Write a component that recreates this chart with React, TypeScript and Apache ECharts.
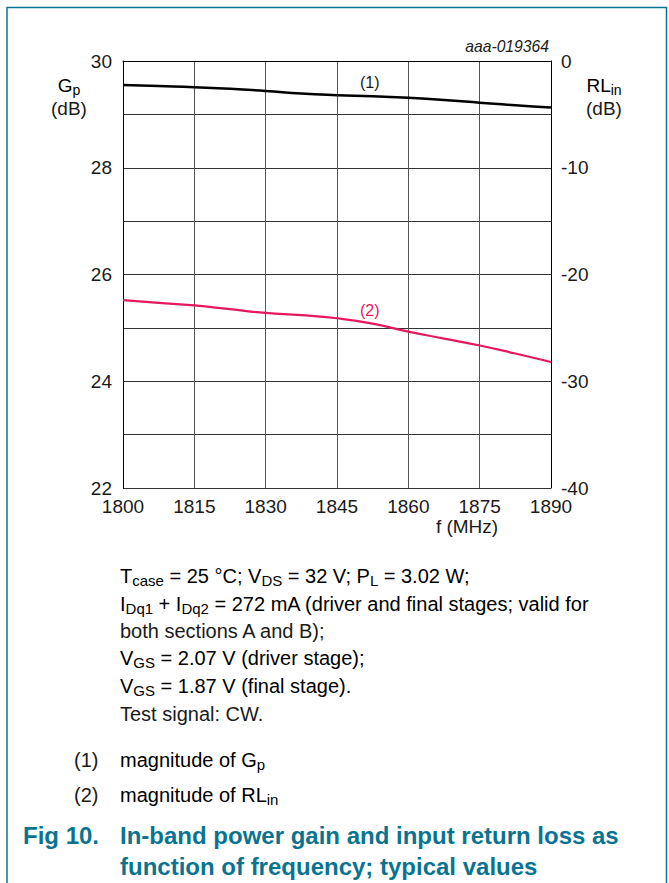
import React, { useEffect, useRef } from "react";
import * as echarts from "echarts";

const freqMHz = [1800, 1807.5, 1815, 1822.5, 1830, 1837.5, 1845, 1852.5, 1860, 1867.5, 1875, 1882.5, 1890];
const gainDb = [29.55, 29.53, 29.51, 29.48, 29.44, 29.39, 29.36, 29.34, 29.31, 29.27, 29.22, 29.17, 29.13];
const returnLossDb = [-22.4, -22.65, -22.9, -23.25, -23.6, -23.8, -24.1, -24.6, -25.35, -26.0, -26.65, -27.4, -28.2];
const xTicks = [1800, 1815, 1830, 1845, 1860, 1875, 1890];
const leftTickLabels = [22, 24, 26, 28, 30];
const rightTickLabels = [-40, -30, -20, -10, 0];

const FONT = "'Liberation Sans', Arial, Helvetica, sans-serif";
const TEAL = "#0a7490";
const RED = "#e5195e";
const TICK = 19;

type Seg = [string, boolean];
function rich(segs: Seg[]): string {
  return segs.map(([t, sub]) => `{${sub ? "s" : "n"}|${t}}`).join("");
}
function richStyles(size: number, color = "#1a1a1a", lh = size + 4) {
  return {
    n: { fontSize: size, fontFamily: FONT, color, lineHeight: lh },
    s: { fontSize: Math.round(size * 0.74), fontFamily: FONT, color, lineHeight: 8, verticalAlign: "bottom" },
  };
}

export default function App() {
  const ref = useRef<HTMLDivElement>(null);
  useEffect(() => {
    if (!ref.current) return;
    const chart = echarts.init(ref.current, null, { renderer: "svg" });
    const noteSize = 20;
    const txt = (x: number, y: number, segs: Seg[], opts: any = {}) => ({
      type: "text",
      x,
      y,
      style: {
        text: rich(segs),
        rich: richStyles(opts.size || noteSize, opts.color, opts.lh),
        textAlign: opts.align || "left",
        textVerticalAlign: "middle",
        fontFamily: FONT,
      },
    });
    const plain = (x: number, y: number, t: string, opts: any = {}) => ({
      type: "text",
      x,
      y,
      style: {
        text: t,
        fontSize: opts.size || noteSize,
        fontFamily: FONT,
        fontWeight: opts.weight || "normal",
        fontStyle: opts.style || "normal",
        fill: opts.color || "#1a1a1a",
        textAlign: opts.align || "left",
        textVerticalAlign: "middle",
        lineHeight: opts.lh,
      },
    });
    const bold = { size: 24, weight: "bold", color: TEAL };
    chart.setOption({
      animation: false,
      grid: { left: 123, right: 118, top: 61, bottom: 395, containLabel: false },
      xAxis: {
        type: "value",
        min: 1800,
        max: 1890,
        interval: 15,
        axisLine: { show: true, lineStyle: { color: "#000", width: 1 } },
        axisTick: { show: false },
        splitLine: { show: true, lineStyle: { color: "#555", width: 1 } },
        axisLabel: {
          color: "#1a1a1a",
          fontSize: TICK,
          fontFamily: FONT,
          lineHeight: 18,
          margin: 9,
          formatter: (v: number) => (xTicks.includes(v) ? String(v) : ""),
        },
      },
      yAxis: [
        {
          type: "value",
          min: 22,
          max: 30,
          interval: 1,
          position: "left",
          axisLine: { show: true, lineStyle: { color: "#000", width: 1 } },
          axisTick: { show: false },
          splitLine: { show: true, lineStyle: { color: "#333", width: 1 } },
          axisLabel: {
            color: "#1a1a1a",
            fontSize: TICK,
            fontFamily: FONT,
            lineHeight: 18,
            margin: 11,
            formatter: (v: number) => (leftTickLabels.includes(v) ? String(v) : ""),
          },
        },
        {
          type: "value",
          min: -40,
          max: 0,
          interval: 5,
          position: "right",
          axisLine: { show: true, lineStyle: { color: "#000", width: 1 } },
          axisTick: { show: false },
          splitLine: { show: false },
          axisLabel: {
            color: "#1a1a1a",
            fontSize: TICK,
            fontFamily: FONT,
            lineHeight: 18,
            margin: 10,
            formatter: (v: number) => (rightTickLabels.includes(v) ? String(v) : ""),
          },
        },
      ],
      series: [
        {
          name: "Gp",
          type: "line",
          yAxisIndex: 0,
          smooth: true,
          showSymbol: false,
          lineStyle: { color: "#000", width: 2.5 },
          data: freqMHz.map((f, i) => [f, gainDb[i]]),
        },
        {
          name: "RLin",
          type: "line",
          yAxisIndex: 1,
          smooth: true,
          showSymbol: false,
          lineStyle: { color: RED, width: 2.2 },
          data: freqMHz.map((f, i) => [f, returnLossDb[i]]),
        },
      ],
      graphic: [
        {
          type: "polyline",
          shape: { points: [[7, 883], [7, 7.5], [666.5, 7.5], [666.5, 883]] },
          style: { stroke: TEAL, lineWidth: 1.5, fill: null },
        },
        plain(549, 46, "aaa-019364", { size: 15.7, style: "italic", align: "right" }),
        txt(69, 85, [["G", false], ["p", true]], { size: TICK, align: "center" }),
        plain(69, 108, "(dB)", { size: TICK, align: "center", lh: 19 }),
        txt(604, 85, [["RL", false], ["in", true]], { size: TICK, align: "center" }),
        plain(604, 108, "(dB)", { size: TICK, align: "center", lh: 19 }),
        plain(467, 526, "f (MHz)", { size: TICK, align: "center" }),
        plain(360, 82, "(1)", { size: 16 }),
        plain(360, 310, "(2)", { size: 16, color: RED }),
        txt(120, 576, [["T", false], ["case", true], [" = 25 °C; V", false], ["DS", true], [" = 32 V; P", false], ["L", true], [" = 3.02 W;", false]]),
        txt(120, 604, [["I", false], ["Dq1", true], [" + I", false], ["Dq2", true], [" = 272 mA (driver and final stages; valid for", false]]),
        plain(120, 631, "both sections A and B);"),
        txt(120, 658, [["V", false], ["GS", true], [" = 2.07 V (driver stage);", false]]),
        txt(120, 686, [["V", false], ["GS", true], [" = 1.87 V (final stage).", false]]),
        plain(120, 714, "Test signal: CW."),
        plain(74, 760, "(1)"),
        txt(120, 760, [["magnitude of G", false], ["p", true]]),
        plain(74, 795, "(2)"),
        txt(120, 795, [["magnitude of RL", false], ["in", true]]),
        plain(23, 835, "Fig 10.", bold),
        plain(120, 835, "In-band power gain and input return loss as", bold),
        plain(120, 866, "function of frequency; typical values", bold),
      ],
    });
    return () => chart.dispose();
  }, []);
  return (
    <div
      ref={ref}
      style={{ position: "fixed", left: 0, top: 0, width: 669, height: 883, background: "#fff" }}
    />
  );
}
